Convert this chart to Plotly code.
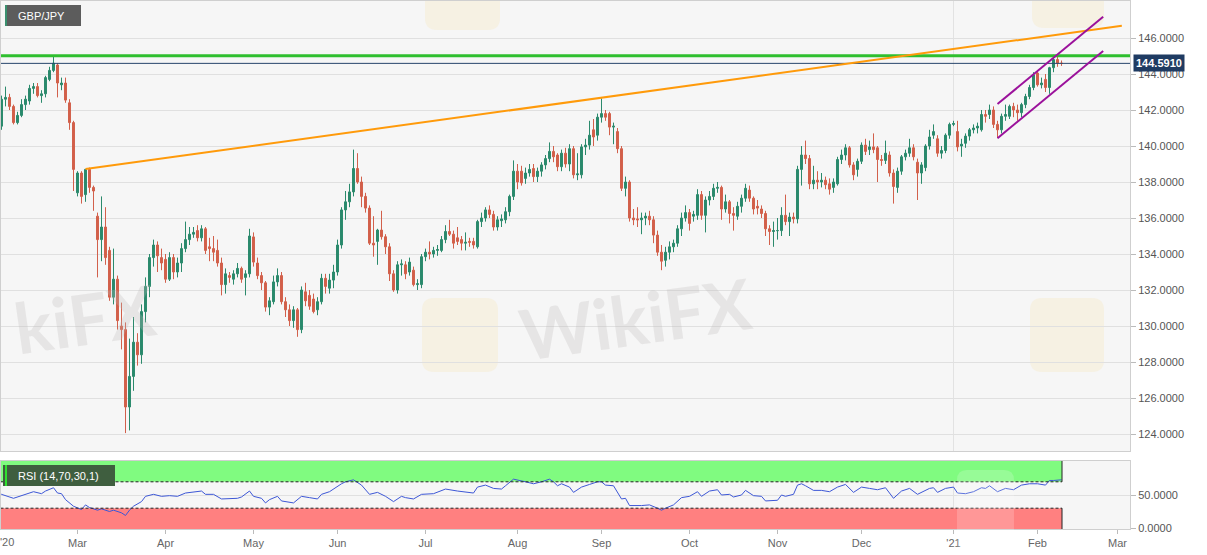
import pandas as pd
import plotly.graph_objects as go

# ---------------- data ----------------
start_date = "2020-02-03"
n_days = 267
dates = pd.bdate_range(start_date, periods=n_days)

open_ = [
140.6, 141.1, 142.6, 142.7, 142.2, 141.3, 141.7, 142.3, 142.5, 143.2,
143.3, 142.8, 142.9, 143.7, 144.2, 144.5, 143.4, 143.5, 142.4, 141.3,
137.4, 138.5, 137.3, 138.7, 137.7, 136.1, 134.8, 135.5, 134.2, 131.6,
132.6, 130.0, 129.8, 125.5, 127.2, 129.1, 128.4, 130.8, 132.2, 133.8,
134.5, 133.8, 133.7, 132.6, 133.8, 133.0, 133.5, 134.3, 134.8, 135.1,
135.3, 134.9, 135.4, 134.4, 134.3, 134.2, 133.5, 132.3, 132.8, 132.6,
132.9, 133.2, 132.7, 132.9, 134.95, 133.5, 132.8, 132.4, 131.05, 131.35,
132.45, 132.8, 131.35, 130.9, 130.3, 130.9, 129.8, 131.9, 131.7, 131.5,
130.9, 131.35, 132.65, 132.1, 132.55, 133.0, 134.5, 136.45, 136.9, 137.45,
138.75, 138.0, 137.2, 136.55, 134.6, 134.7, 135.33, 134.96, 134.4, 132.9,
132.0, 133.4, 133.4, 133.0, 133.1, 132.3, 132.3, 133.85, 134.1, 134.0,
134.2, 134.2, 134.8, 135.25, 135.1, 134.9, 134.8, 134.6, 134.7, 134.7,
134.4, 135.8, 136.0, 136.45, 136.2, 135.5, 135.85, 135.9, 136.35, 137.2,
138.6, 138.6, 138.2, 138.5, 138.75, 138.3, 138.6, 138.95, 139.3, 139.7,
139.5, 138.85, 139.6, 139.0, 139.85, 138.4, 138.4, 139.95, 140.05, 140.9,
140.6, 141.6, 141.8, 141.8, 141.05, 140.8, 139.85, 137.65, 138.0, 136.0,
135.95, 135.9, 136.0, 136.1, 135.9, 135.05, 134.1, 133.65, 134.1, 134.4,
134.6, 135.4, 136.0, 136.3, 136.1, 136.15, 137.3, 136.15, 137.0, 137.2,
137.65, 137.7, 136.5, 136.9, 136.25, 136.1, 136.65, 137.1, 137.55, 137.1,
136.65, 136.5, 136.25, 135.4, 135.25, 135.3, 135.3, 136.15, 135.8, 136.05,
135.95, 138.7, 139.5, 139.3, 137.9, 138.1, 138.0, 138.1, 137.9, 137.7,
137.9, 139.25, 139.5, 139.9, 138.95, 138.7, 139.15, 140.05, 139.8, 139.95,
139.9, 139.25, 139.2, 139.5, 138.5, 137.7, 138.6, 139.4, 139.6, 139.9,
139.1, 138.5, 138.8, 140.0, 140.6, 140.4, 139.6, 139.75, 140.6, 141.2,
140.8, 140.0, 140.15, 140.55, 140.9, 141.0, 140.9, 141.75, 141.75, 142.0,
141.2, 140.9, 141.65, 141.65, 142.2, 142.0, 141.85, 142.3, 142.75, 143.25,
144.05, 143.4, 143.7, 143.25, 144.35, 144.8, 144.6]

high = [
141.4, 142.8, 143.3, 142.9, 142.3, 141.9, 142.6, 142.8, 143.4, 143.5,
143.5, 143.1, 143.9, 144.4, 145.0, 144.6, 143.8, 143.8, 142.6, 141.4,
138.6, 138.6, 138.7, 138.8, 137.8, 136.3, 137.2, 136.6, 134.4, 134.3,
132.8, 131.3, 130.2, 129.3, 130.5, 129.6, 131.2, 132.7, 134.0, 134.8,
134.7, 134.3, 134.0, 134.1, 134.0, 133.8, 134.6, 135.8, 135.5, 135.5,
135.6, 135.6, 135.5, 134.9, 135.0, 134.8, 133.8, 133.2, 133.0, 133.1,
133.5, 133.3, 133.1, 135.4, 135.2, 133.8, 133.0, 132.5, 131.6, 132.8,
133.2, 133.0, 131.6, 131.2, 131.1, 131.0, 132.2, 132.4, 132.0, 131.8,
131.6, 132.9, 132.9, 132.9, 133.4, 134.8, 136.6, 137.5, 137.9, 139.8,
139.6, 138.3, 137.4, 136.7, 136.1, 135.4, 136.4, 135.1, 134.6, 133.1,
133.6, 133.7, 133.6, 133.8, 133.3, 132.6, 134.0, 134.3, 134.7, 134.4,
134.5, 135.0, 135.6, 135.9, 135.3, 135.5, 135.0, 135.2, 134.9, 134.9,
135.9, 136.3, 136.6, 136.7, 136.4, 136.1, 136.2, 136.6, 137.3, 139.2,
139.0, 138.9, 138.8, 139.0, 139.0, 138.8, 139.1, 139.5, 140.2, 140.0,
139.6, 139.8, 139.9, 140.1, 140.0, 139.6, 140.1, 140.4, 141.4, 141.5,
141.8, 142.65, 142.0, 141.9, 141.3, 141.0, 140.0, 138.3, 138.1, 136.5,
136.6, 136.3, 136.3, 136.4, 136.1, 135.3, 134.5, 134.4, 134.7, 134.8,
135.6, 136.3, 136.7, 136.5, 136.4, 137.6, 137.5, 137.2, 137.5, 137.9,
138.0, 137.8, 137.3, 137.0, 136.6, 136.9, 137.3, 137.9, 137.8, 137.2,
137.0, 136.7, 136.4, 135.6, 135.8, 136.0, 136.6, 137.3, 136.3, 136.3,
138.9, 140.0, 140.3, 139.5, 138.9, 138.6, 138.5, 138.3, 138.2, 138.2,
139.4, 139.8, 140.1, 140.0, 139.1, 139.3, 140.2, 140.4, 140.3, 140.7,
140.0, 139.5, 140.3, 139.7, 138.7, 138.8, 139.5, 139.8, 140.4, 140.1,
139.3, 139.1, 140.1, 140.9, 141.2, 140.6, 140.0, 140.7, 141.3, 141.4,
141.4, 140.4, 140.7, 141.0, 141.2, 141.3, 142.0, 142.0, 142.3, 142.2,
141.4, 141.8, 142.3, 142.3, 142.4, 142.3, 142.4, 142.9, 143.4, 144.1,
144.2, 143.8, 144.0, 144.4, 145.07, 145.0, 144.75]

low = [
140.4, 140.9, 142.2, 142.0, 141.2, 141.2, 141.6, 142.0, 142.3, 142.9,
142.7, 142.4, 142.7, 143.6, 144.1, 142.7, 143.1, 142.4, 140.9, 137.5,
137.2, 136.8, 136.9, 137.4, 136.4, 132.7, 133.6, 133.4, 131.4, 131.2,
129.8, 128.7, 124.05, 124.2, 126.4, 127.8, 127.9, 130.2, 131.6, 133.3,
133.0, 133.1, 132.4, 132.5, 132.6, 132.7, 133.0, 134.1, 134.5, 134.9,
134.7, 134.7, 134.0, 133.6, 133.6, 133.3, 131.7, 131.8, 132.4, 132.3,
132.7, 132.4, 131.7, 132.7, 133.3, 132.6, 132.0, 130.8, 130.6, 131.2,
132.2, 131.2, 130.5, 130.0, 129.9, 129.4, 129.6, 131.1, 130.9, 130.7,
130.6, 131.2, 131.8, 131.8, 132.1, 132.8, 134.3, 135.9, 136.6, 137.2,
137.9, 136.6, 136.3, 134.5, 133.85, 133.4, 134.8, 134.0, 132.5, 131.9,
131.8, 132.8, 132.6, 132.8, 132.2, 132.0, 132.1, 133.6, 133.7, 133.8,
133.9, 134.1, 134.6, 135.0, 134.3, 134.5, 134.2, 134.2, 134.4, 134.3,
134.3, 135.5, 135.8, 136.0, 135.3, 135.3, 135.5, 135.7, 136.1, 137.0,
137.6, 137.8, 137.9, 138.3, 138.0, 138.0, 138.3, 138.7, 139.1, 139.1,
138.6, 138.6, 138.8, 138.6, 138.2, 138.1, 138.2, 139.5, 139.8, 140.0,
140.3, 141.3, 141.4, 140.6, 140.1, 139.6, 137.5, 137.2, 135.8, 135.6,
135.5, 135.1, 135.6, 135.6, 134.6, 133.9, 133.1, 133.3, 133.7, 134.1,
134.4, 135.0, 135.8, 135.3, 135.8, 135.9, 135.9, 135.2, 136.7, 137.0,
137.4, 135.9, 136.3, 135.7, 135.3, 135.9, 136.3, 136.9, 136.9, 136.2,
136.2, 136.0, 135.0, 134.5, 134.4, 134.8, 135.0, 135.6, 135.0, 135.7,
135.7, 137.8, 139.0, 137.6, 137.6, 137.6, 137.7, 137.6, 137.3, 137.4,
137.8, 139.0, 139.2, 138.8, 138.1, 138.3, 139.0, 139.5, 139.5, 139.6,
138.0, 138.9, 139.0, 138.3, 136.8, 137.4, 138.4, 139.2, 139.4, 139.2,
137.0, 137.9, 138.6, 139.8, 140.4, 139.4, 139.3, 139.6, 140.4, 141.1,
139.7, 139.4, 139.9, 140.3, 140.7, 140.7, 140.8, 141.3, 141.5, 141.0,
140.45, 140.7, 141.4, 141.5, 141.6, 141.4, 141.6, 142.1, 142.6, 143.1,
143.3, 143.2, 143.0, 142.9, 144.1, 144.4, 144.45]

close = [
141.1, 142.6, 142.7, 142.2, 141.3, 141.7, 142.3, 142.6, 143.2, 143.3,
142.8, 142.9, 143.8, 144.2, 144.6, 143.5, 143.5, 142.55, 141.3, 138.7,
138.5, 137.2, 138.7, 137.7, 137.5, 134.8, 135.5, 133.8, 131.6, 132.6,
130.3, 129.8, 125.5, 127.2, 129.1, 128.4, 130.8, 132.2, 133.8, 134.5,
133.9, 133.5, 132.6, 133.8, 133.0, 133.5, 134.3, 134.8, 135.1, 135.2,
134.9, 135.4, 134.2, 134.3, 134.1, 133.5, 132.3, 132.9, 132.7, 132.9,
133.2, 132.6, 132.9, 135.0, 133.55, 132.8, 132.4, 131.05, 131.4, 132.45,
132.8, 131.35, 130.9, 130.3, 130.9, 129.8, 132.0, 131.4, 131.1, 130.8,
131.35, 132.65, 132.2, 132.55, 133.0, 134.5, 136.45, 136.9, 137.45, 138.75,
138.0, 137.2, 136.55, 134.6, 134.5, 135.33, 134.96, 134.4, 132.9, 132.0,
133.4, 133.45, 132.9, 133.55, 132.3, 132.35, 133.85, 134.1, 134.0, 134.2,
134.25, 134.8, 135.25, 135.1, 134.6, 134.7, 134.6, 134.65, 134.65, 134.5,
135.8, 136.0, 136.45, 136.2, 135.5, 135.9, 135.95, 136.35, 137.2, 138.6,
138.0, 137.95, 138.5, 138.7, 138.3, 138.6, 138.95, 139.3, 139.7, 139.4,
138.85, 139.6, 139.0, 139.85, 138.4, 138.45, 139.95, 140.05, 140.6, 140.5,
141.6, 141.8, 141.6, 141.05, 141.1, 139.85, 137.65, 138.0, 136.0, 135.9,
135.9, 136.0, 136.1, 135.9, 135.05, 134.1, 133.6, 134.1, 134.4, 134.6,
135.4, 136.0, 136.3, 135.7, 136.2, 137.3, 136.15, 137.0, 137.2, 137.65,
137.7, 136.5, 136.9, 136.25, 136.15, 136.65, 137.1, 137.65, 137.1, 136.5,
136.55, 136.25, 135.4, 135.25, 135.3, 135.3, 136.15, 135.8, 136.05, 135.95,
138.7, 139.5, 139.3, 137.9, 138.1, 138.0, 138.1, 137.85, 137.6, 138.0,
139.25, 139.5, 139.9, 138.95, 138.4, 139.15, 140.05, 139.7, 139.95, 139.8,
139.25, 139.2, 139.6, 138.5, 137.75, 138.6, 139.4, 139.6, 139.9, 139.4,
138.5, 138.95, 140.0, 140.5, 140.8, 139.6, 139.75, 140.6, 141.2, 141.25,
139.95, 140.1, 140.55, 140.9, 141.0, 141.1, 141.75, 141.65, 142.0, 141.2,
140.9, 141.65, 141.75, 142.2, 142.0, 141.85, 142.3, 142.75, 143.25, 143.95,
143.4, 143.5, 143.25, 144.35, 144.8, 144.6, 144.591]

# RSI(14) readings: trading-day index -> value
rsi_idx = [0, 1, 4, 6, 7, 9, 11, 12, 14, 15, 16, 17, 19, 21, 22, 23, 25, 26, 28, 29,
           31, 32, 33, 34, 36, 37, 39, 41, 43, 45, 47, 49, 51, 52, 54, 56, 58, 60, 61, 63,
           64, 66, 67, 68, 70, 71, 74, 76, 78, 80, 81, 83, 86, 87, 89, 91, 93, 95, 97, 99,
           101, 102, 104, 106, 109, 112, 115, 119, 120, 122, 124, 126, 127, 129, 132, 134, 136, 138, 139, 140,
           141, 143, 144, 146, 148, 150, 151, 152, 154, 156, 157, 158, 161, 163, 165, 166, 167, 169, 171, 173,
           175, 176, 178, 180, 181, 183, 184, 186, 187, 189, 191, 192, 195, 196, 197, 199, 200, 201, 202, 204,
           206, 208, 210, 212, 214, 216, 218, 220, 222, 224, 226, 228, 230, 233, 234, 235, 237, 239, 240, 242,
           244, 246, 247, 248, 250, 252, 254, 256, 258, 260, 262, 263, 264, 265, 266]
rsi_val = [50, 51, 45, 49, 51, 55, 52, 56, 61, 53, 52, 43, 33, 28, 35, 31, 27, 29, 25, 27,
           23, 19, 27, 33, 40, 48, 51, 48, 49, 48, 53, 55, 56, 51, 51, 44, 45, 45, 47, 56,
           48, 45, 38, 43, 48, 41, 38, 48, 46, 44, 51, 55, 67, 70, 73, 65, 51, 54, 48, 40,
           48, 46, 44, 51, 52, 59, 56, 53, 62, 65, 60, 59, 64, 74, 70, 67, 70, 74, 70, 64,
           67, 62, 54, 62, 66, 70, 70, 65, 64, 44, 45, 34, 34, 35, 30, 27, 30, 35, 46, 48,
           55, 48, 56, 58, 50, 51, 47, 50, 57, 49, 48, 41, 42, 50, 48, 51, 65, 67, 64, 57,
           57, 55, 62, 66, 54, 62, 60, 58, 61, 45, 56, 60, 51, 60, 61, 54, 60, 62, 53, 52,
           55, 61, 60, 64, 55, 60, 58, 65, 67, 67, 65, 72, 72, 73, 73]

tick_dates = ["2020-03-02", "2020-04-01", "2020-05-01", "2020-06-01", "2020-07-01",
              "2020-08-03", "2020-09-01", "2020-10-01", "2020-11-02", "2020-12-01",
              "2021-01-01", "2021-02-01", "2021-03-01"]
tick_text = ["Mar", "Apr", "May", "Jun", "Jul", "Aug", "Sep", "Oct", "Nov", "Dec",
             "'21", "Feb", "Mar"]
first_year_label = "'20"

price_ticks = [124, 126, 128, 130, 132, 134, 136, 138, 140, 142, 144, 146]
rsi_ticks = [0, 50]
rsi_upper, rsi_lower = 70, 30

resistance_level = 145.02
last_price = 144.591

orange_dates = ["2020-03-04", "2021-03-02 02:00"]
orange_prices = [138.72, 146.68]
channel_dates = ["2021-01-18", "2021-02-23 10:00"]
channel_upper = [142.33, 147.18]
channel_lower = [140.43, 145.28]

year_line_date = "2021-01-01"
band_start, band_end = "2020-01-31", "2021-02-09 03:00"
x_range = ["2020-02-03 21:00", "2021-03-04 03:00"]

# ---------------- style ----------------
W, H = 1207, 555
ML, MR, MT, MB = 1, 77, 1, 26
PW, PH = W - ML - MR, H - MT - MB
GREEN_C = "#2b8a6c"
RED_C = "#d2604b"
BG = "#f6f6f6"
GRID = "#e0e0e0"
AX = "#cfcfcf"
FONT = "Arial"


def px(xp):
    return (xp - ML) / PW


def py(yp):
    return (H - MB - yp) / PH


main_dom = [py(451), 1.0]
rsi_dom = [0.0, py(461)]

fig = go.Figure()

fig.add_trace(go.Candlestick(
    x=dates, open=open_, high=high, low=low, close=close,
    increasing=dict(line=dict(color=GREEN_C, width=1), fillcolor=GREEN_C),
    decreasing=dict(line=dict(color=RED_C, width=1), fillcolor=RED_C),
    whiskerwidth=0, showlegend=False, hoverinfo="skip", xaxis="x", yaxis="y"))

# horizontal levels
fig.add_trace(go.Scatter(x=[x_range[0], x_range[1]], y=[resistance_level] * 2, mode="lines",
                         line=dict(color="#2fbf2f", width=3), showlegend=False,
                         hoverinfo="skip", xaxis="x", yaxis="y"))
fig.add_trace(go.Scatter(x=[x_range[0], x_range[1]], y=[last_price] * 2, mode="lines",
                         line=dict(color="#27456b", width=1), showlegend=False,
                         hoverinfo="skip", xaxis="x", yaxis="y"))
# trend lines
fig.add_trace(go.Scatter(x=orange_dates, y=orange_prices, mode="lines",
                         line=dict(color="#ff9a0a", width=2), showlegend=False,
                         hoverinfo="skip", xaxis="x", yaxis="y"))
for ch in (channel_upper, channel_lower):
    fig.add_trace(go.Scatter(x=channel_dates, y=ch, mode="lines",
                             line=dict(color="#9b119b", width=2), showlegend=False,
                             hoverinfo="skip", xaxis="x", yaxis="y"))

# RSI
fig.add_trace(go.Scatter(x=dates[rsi_idx], y=rsi_val, mode="lines",
                         line=dict(color="#3d57d6", width=1), showlegend=False,
                         hoverinfo="skip", xaxis="x2", yaxis="y2"))

rb = [dict(bounds=["sat", "mon"])]

fig.update_layout(
    width=W, height=H,
    margin=dict(l=ML, r=MR, t=MT, b=MB),
    paper_bgcolor="white", plot_bgcolor=BG,
    font=dict(family=FONT, size=11, color="#555555"),
    showlegend=False,
    xaxis=dict(domain=[0, 1], anchor="y", type="date", range=x_range, rangebreaks=rb,
               rangeslider=dict(visible=False), showticklabels=False, showgrid=False,
               ticks="", showline=True, mirror=True, linecolor=AX, zeroline=False),
    xaxis2=dict(domain=[0, 1], anchor="y2", type="date", range=x_range, rangebreaks=rb,
                matches="x", tickmode="array", tickvals=tick_dates, ticktext=tick_text,
                ticks="outside", ticklen=4, tickcolor="#bbbbbb", showgrid=False,
                showline=True, mirror=True, linecolor=AX, zeroline=False,
                tickfont=dict(size=11, color="#666666")),
    yaxis=dict(domain=main_dom, anchor="x", side="right", range=[146 - 413 / 18, 146 + 37 / 18],
               tickmode="array", tickvals=price_ticks, tickformat=".4f",
               gridcolor=GRID, ticks="outside", ticklen=5, tickcolor="#bbbbbb",
               showline=True, mirror=True, linecolor=AX, zeroline=False,
               tickfont=dict(size=11, color="#555555")),
    yaxis2=dict(domain=rsi_dom, anchor="x2", side="right", range=[-1.5, 101.5],
                tickmode="array", tickvals=rsi_ticks, tickformat=".4f",
                gridcolor=GRID, ticks="outside", ticklen=5, tickcolor="#bbbbbb",
                showline=True, mirror=True, linecolor=AX, zeroline=False,
                tickfont=dict(size=11, color="#555555")),
)

shapes = []
# RSI bands
shapes.append(dict(type="rect", xref="x2", yref="y2", x0=band_start, x1=band_end,
                   y0=rsi_upper, y1=101.5, fillcolor="#80fb80", line=dict(width=0), layer="below"))
shapes.append(dict(type="rect", xref="x2", yref="y2", x0=band_start, x1=band_end,
                   y0=-1.5, y1=rsi_lower, fillcolor="#ff8080", line=dict(width=0), layer="below"))
for lv in (rsi_upper, rsi_lower):
    shapes.append(dict(type="line", xref="x2", yref="y2", x0=band_start, x1=band_end,
                       y0=lv, y1=lv, line=dict(color="#222222", width=1, dash="3px,2px")))
shapes.append(dict(type="line", xref="x2", yref="y2", x0=band_end, x1=band_end,
                   y0=rsi_upper, y1=101.5, line=dict(color="#222222", width=1)))
shapes.append(dict(type="line", xref="x2", yref="y2", x0=band_end, x1=band_end,
                   y0=-1.5, y1=rsi_lower, line=dict(color="#222222", width=1)))
# year separator
shapes.append(dict(type="line", xref="x", yref="y domain", x0=year_line_date, x1=year_line_date,
                   y0=0, y1=1, line=dict(color="#e2e2e2", width=1), layer="below"))
shapes.append(dict(type="line", xref="x2", yref="y2 domain", x0=year_line_date, x1=year_line_date,
                   y0=0, y1=1, line=dict(color="#e2e2e2", width=1), layer="below"))


def rounded_rect(x0, y0, x1, y1, r):
    X0, X1 = px(x0), px(x1)
    Y0, Y1 = py(y1), py(y0)
    rx, ry = r / PW, r / PH
    return ("M %f,%f L %f,%f Q %f,%f %f,%f L %f,%f Q %f,%f %f,%f L %f,%f Q %f,%f %f,%f "
            "L %f,%f Q %f,%f %f,%f Z" % (
                X0 + rx, Y0, X1 - rx, Y0, X1, Y0, X1, Y0 + ry, X1, Y1 - ry, X1, Y1, X1 - rx, Y1,
                X0 + rx, Y1, X0, Y1, X0, Y1 - ry, X0, Y0 + ry, X0, Y0, X0 + rx, Y0))


# watermark logos (faint)
for (x0, y0, x1, y1) in [(422, 298, 498, 372), (1030, 298, 1104, 372),
                         (425, -20, 500, 30), (1032, -20, 1104, 28)]:
    shapes.append(dict(type="path", xref="paper", yref="paper",
                       path=rounded_rect(x0, y0, x1, y1, 12),
                       fillcolor="rgba(248,222,160,0.22)", line=dict(width=0), layer="below"))
shapes.append(dict(type="path", xref="paper", yref="paper",
                   path=rounded_rect(957, 470, 1014, 560, 10),
                   fillcolor="rgba(255,255,255,0.18)", line=dict(width=0), layer="above"))

# labels
shapes.append(dict(type="rect", xref="paper", yref="paper", x0=px(5), x1=px(81),
                   y0=py(26), y1=py(5), fillcolor="#5c5c5c", line=dict(width=0)))
shapes.append(dict(type="rect", xref="paper", yref="paper", x0=px(5), x1=px(7),
                   y0=py(26), y1=py(5), fillcolor="#3a8f6e", line=dict(width=0)))
shapes.append(dict(type="rect", xref="paper", yref="paper", x0=px(3), x1=px(115),
                   y0=py(486), y1=py(465), fillcolor="#3f5e3f", line=dict(width=0)))
shapes.append(dict(type="rect", xref="paper", yref="paper", x0=px(5), x1=px(7),
                   y0=py(486), y1=py(465), fillcolor="#2fe02f", line=dict(width=0)))
fig.update_layout(shapes=shapes)

annotations = [
    dict(xref="paper", yref="paper", x=px(16), y=py(15.5), xanchor="left", yanchor="middle",
         text="GBP/JPY", showarrow=False, font=dict(size=11, color="white", family=FONT)),
    dict(xref="paper", yref="paper", x=px(16), y=py(475.5), xanchor="left", yanchor="middle",
         text="RSI (14,70,30,1)", showarrow=False, font=dict(size=11, color="white", family=FONT)),
    dict(xref="paper", yref="y", x=px(1133), y=last_price, xanchor="left", yanchor="middle",
         text="<b>%.4f</b>" % last_price, showarrow=False, bgcolor="#1f3b62", borderpad=2,
         font=dict(size=11, color="white", family=FONT)),
    dict(xref="paper", yref="paper", x=px(6.5), y=py(542), xanchor="center", yanchor="middle",
         text=first_year_label, showarrow=False, font=dict(size=11, color="#666666", family=FONT)),
    dict(xref="paper", yref="paper", x=px(635), y=py(318), xanchor="center", yanchor="middle",
         text="<b>WikiFX</b>", showarrow=False, textangle=-8,
         font=dict(size=70, color="rgba(190,185,185,0.28)", family="Lato")),
    dict(xref="paper", yref="paper", x=px(162), y=py(318), xanchor="right", yanchor="middle",
         text="<b>kiFX</b>", showarrow=False, textangle=-8,
         font=dict(size=70, color="rgba(190,185,185,0.28)", family="Lato")),
]
fig.update_layout(annotations=annotations)

fig.write_html("out.html", config={"displayModeBar": False},
               post_script="document.body.style.margin='0px';")
